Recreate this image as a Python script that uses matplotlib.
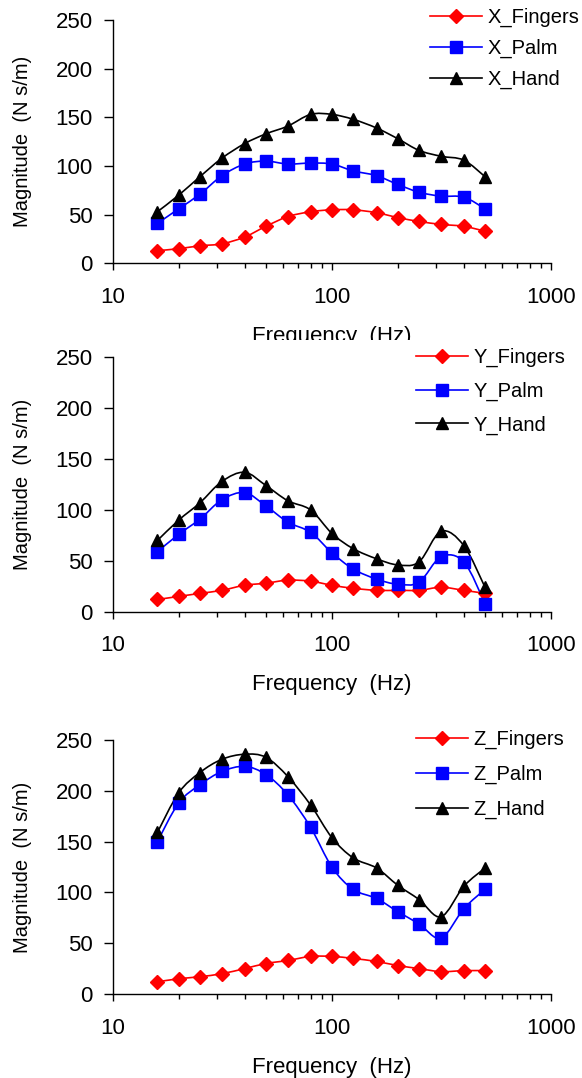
import matplotlib
matplotlib.use("Agg")
import matplotlib.pyplot as plt
from matplotlib.path import Path
from matplotlib.patches import PathPatch, Rectangle
from matplotlib.lines import Line2D
import numpy as np

# one-third octave frequencies (Hz)
freq = [16, 20, 25, 31.5, 40, 50, 63, 80, 100, 125, 160, 200, 250, 315, 400, 500]

x_fingers = [13, 15, 18, 20, 27, 38, 48, 53, 55, 55, 52, 47, 43, 40, 38, 33]
x_palm = [41, 56, 71, 90, 102, 105, 102, 103, 102, 95, 90, 81, 73, 69, 68, 56]
x_hand = [53, 70, 89, 108, 123, 133, 141, 153, 153, 148, 139, 128, 116, 110, 106, 89]

y_fingers = [12, 15, 18, 21, 26, 28, 31, 30, 26, 23, 21, 21, 21, 24, 21, 18]
y_palm = [59, 76, 91, 110, 117, 104, 88, 78, 58, 42, 32, 27, 29, 54, 49, 8]
y_hand = [70, 90, 107, 128, 137, 124, 109, 100, 77, 62, 52, 46, 49, 79, 65, 24]

z_fingers = [12, 15, 17, 20, 25, 30, 33, 37, 37, 35, 32, 28, 25, 22, 23, 23]
z_palm = [150, 188, 206, 219, 224, 216, 196, 164, 125, 103, 94, 81, 69, 55, 84, 103]
z_hand = [159, 198, 218, 231, 236, 233, 214, 186, 154, 134, 124, 107, 93, 76, 106, 124]

FONT = "Liberation Sans"
plt.rcParams['font.family'] = [FONT, 'DejaVu Sans']

W, H = 582, 1078


def SmoothPath(f, v):
    # excel-like smoothed line: bezier segments through the points (log x)
    u = np.log10(f)
    v = np.asarray(v, dtype=float)
    n = len(u)
    verts = [(f[0], v[0])]
    codes = [Path.MOVETO]
    for i in range(n - 1):
        i0 = max(i - 1, 0)
        i3 = min(i + 2, n - 1)
        c1u = u[i] + (u[i + 1] - u[i0]) / 6
        c1v = v[i] + (v[i + 1] - v[i0]) / 6
        c2u = u[i + 1] - (u[i3] - u[i]) / 6
        c2v = v[i + 1] - (v[i3] - v[i]) / 6
        verts += [(10 ** c1u, c1v), (10 ** c2u, c2v), (f[i + 1], v[i + 1])]
        codes += [Path.CURVE4] * 3
    return Path(verts, codes)


styles = [('red', 'D', 7), ('blue', 's', 8), ('black', '^', 9)]


def Panel(fig, rect, series, names, legPos, legSpacing):
    ax = fig.add_axes(rect)
    handles = []
    for vals, name, (col, mk, ms) in zip(series, names, styles):
        ax.add_patch(PathPatch(SmoothPath(freq, vals), fill=False, edgecolor=col, lw=1.2))
        ax.plot(freq, vals, linestyle='none', marker=mk, markersize=ms,
                color=col, markeredgecolor=col)
        handles.append(Line2D([], [], color=col, lw=1.2, marker=mk, markersize=ms))

    ax.set_xscale('log')
    ax.set_xlim(10, 1000)
    ax.set_ylim(0, 250)
    ax.set_yticks([0, 50, 100, 150, 200, 250])
    ax.set_xticks([10, 100, 1000])
    ax.set_xticklabels(['10', '100', '1000'])
    ax.xaxis.set_minor_formatter(matplotlib.ticker.NullFormatter())

    for s in ['top', 'right']:
        ax.spines[s].set_visible(False)
    for s in ['left', 'bottom']:
        ax.spines[s].set_linewidth(1)
        ax.spines[s].set_color('black')

    ax.tick_params(axis='x', which='major', direction='out', length=5, width=1,
                   pad=12, labelsize=16)
    ax.tick_params(axis='x', which='minor', direction='out', length=3.5, width=1)
    ax.tick_params(axis='y', direction='out', length=6.5, width=1, pad=8, labelsize=16)

    ax.set_xlabel('Frequency  (Hz)', fontsize=16, labelpad=13)
    ax.set_ylabel('Magnitude  (N s/m)', fontsize=14.5)
    ax.yaxis.set_label_coords(-0.184, 0.5)

    ax.legend(handles, names, loc='upper left',
              bbox_to_anchor=(legPos[0] / W, 1 - legPos[1] / H),
              bbox_transform=fig.transFigure, frameon=False, fontsize=14.5,
              borderpad=0, borderaxespad=0, handlelength=2.6,
              handletextpad=0.25, labelspacing=legSpacing)
    return ax


fig = plt.figure(figsize=(W / 100, H / 100), dpi=100)

left = 112.7 / W
width = 438.3 / W

ax1 = Panel(fig, [left, 1 - 263.3 / H, width, 243.3 / H],
            [x_fingers, x_palm, x_hand], ['X_Fingers', 'X_Palm', 'X_Hand'],
            (430, 8), 0.58)
ax2 = Panel(fig, [left, 1 - 611.7 / H, width, 254.4 / H],
            [y_fingers, y_palm, y_hand], ['Y_Fingers', 'Y_Palm', 'Y_Hand'],
            (416, 348), 0.72)
ax3 = Panel(fig, [left, 1 - 994 / H, width, 254 / H],
            [z_fingers, z_palm, z_hand], ['Z_Fingers', 'Z_Palm', 'Z_Hand'],
            (416, 730), 0.78)

# the lower panels are separate images stacked below: cut the first x label
ax1.set_zorder(0)
fig.patches.append(Rectangle((0, 0), 1, 1 - 340 / H, transform=fig.transFigure,
                             facecolor='white', edgecolor='none', zorder=1))
ax2.set_zorder(2)
ax3.set_zorder(2)

fig.savefig('out.png', dpi=100)
